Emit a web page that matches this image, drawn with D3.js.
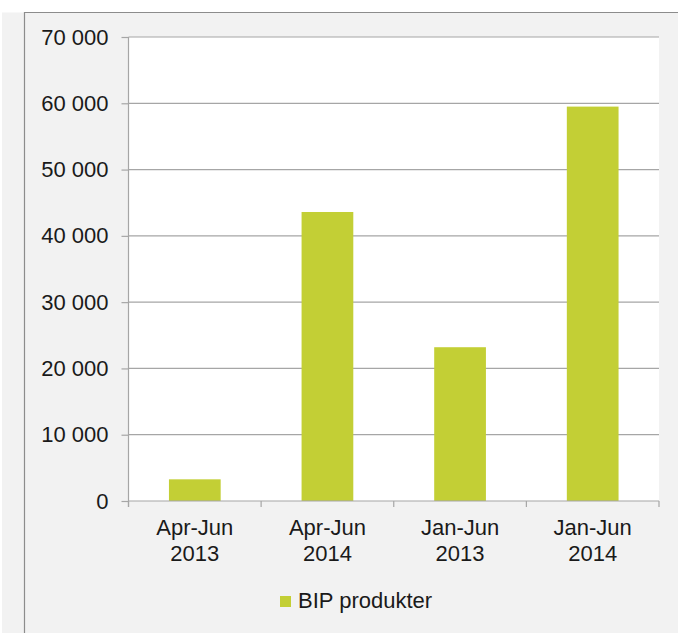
<!DOCTYPE html>
<html>
<head>
<meta charset="utf-8">
<script src="https://cdn.jsdelivr.net/npm/d3@7"></script>
<style>
  body { margin: 0; background: #fff; }
  text { font-family: "Liberation Sans", Arial, sans-serif; fill: #1a1a1a; }
</style>
</head>
<body>
<div id="canvas"></div>
<script>
const periods = ["Apr-Jun 2013", "Apr-Jun 2014", "Jan-Jun 2013", "Jan-Jun 2014"];
const bipValues = [3270, 43600, 23200, 59500];
const yTicks = [0, 10000, 20000, 30000, 40000, 50000, 60000, 70000];
const seriesName = "BIP produkter";

const width = 678;
const height = 633;
const margin = {top: 37, left: 128.5, bottom: 132, right: 19};
const iwidth = 659 - margin.left;
const iheight = 501 - margin.top;

const svg = d3.select("#canvas").append("svg")
    .attr("width", width)
    .attr("height", height);

// panel background and frame
svg.append("rect").attr("x", 2).attr("y", 12.5).attr("width", width).attr("height", height)
    .style("fill", "#f2f2f2");
svg.append("path").attr("d", `M24.5,${height} V12.5 H${width}`)
    .style("fill", "none").style("stroke", "#8c8c8c").style("stroke-width", 1.2);

const g = svg.append("g").attr("transform", `translate(${margin.left},${margin.top})`);

g.append("rect").attr("width", iwidth).attr("height", iheight).style("fill", "#fff");

const x = d3.scaleBand().domain(periods).range([0, iwidth]).paddingInner(0.61).paddingOuter(0.305);
const y = d3.scaleLinear().domain([0, 70000]).range([iheight, 0]);
const fmt = v => d3.format(",")(v).replace(/,/g, " ");

// gridlines
g.selectAll(".grid").data(yTicks.filter(d => d > 0)).enter().append("line")
    .attr("x1", 0).attr("x2", iwidth)
    .attr("y1", d => y(d)).attr("y2", d => y(d))
    .style("stroke", "#a6a6a6").style("stroke-width", 1.2);

// bars
g.selectAll(".bar").data(bipValues).enter().append("rect")
    .attr("x", (d, i) => x(periods[i]))
    .attr("width", x.bandwidth())
    .attr("y", d => y(d))
    .attr("height", d => y(0) - y(d))
    .style("fill", "#c3cf35");

// y axis
const yAxis = g.append("g")
    .call(d3.axisLeft(y).tickValues(yTicks).tickSize(7).tickPadding(13).tickFormat(fmt));
yAxis.select(".domain").attr("d", `M0,0 V${iheight + 6}`).style("stroke", "#a6a6a6").style("stroke-width", 1.2);
yAxis.selectAll(".tick line").style("stroke", "#a6a6a6").style("stroke-width", 1.2);
yAxis.selectAll(".tick text").style("font-size", "22px").style("fill", "#1a1a1a")
    .style("font-family", "'Liberation Sans', Arial, sans-serif");

// x axis
const xg = g.append("g").attr("transform", `translate(0,${iheight})`);
xg.append("line").attr("x1", 0).attr("x2", iwidth)
    .style("stroke", "#a6a6a6").style("stroke-width", 1.2);
const step = x.step();
xg.selectAll(".xtick").data(d3.range(periods.length + 1)).enter().append("line")
    .attr("x1", i => i * step).attr("x2", i => i * step)
    .attr("y1", 0).attr("y2", 6)
    .style("stroke", "#a6a6a6").style("stroke-width", 1.2);
const labels = xg.selectAll(".xlabel").data(periods).enter().append("text")
    .attr("text-anchor", "middle")
    .attr("transform", d => `translate(${x(d) + x.bandwidth() / 2},0)`)
    .style("font-size", "22px");
labels.append("tspan").attr("x", 0).attr("y", 34).text(d => d.split(" ")[0]);
labels.append("tspan").attr("x", 0).attr("y", 60).text(d => d.split(" ")[1]);

// legend
const legend = svg.append("g").attr("transform", "translate(280,596)");
legend.append("rect").attr("width", 11).attr("height", 11).style("fill", "#c3cf35");
legend.append("text").attr("x", 18).attr("y", 12).style("font-size", "22px").text(seriesName);
</script>
</body>
</html>
